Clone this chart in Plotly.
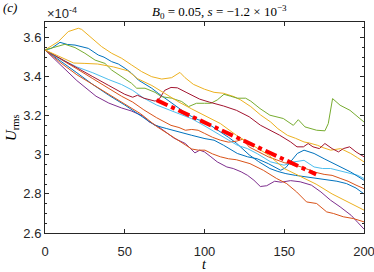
import plotly.graph_objects as go

# ---- data (U in units of 1e-4) ----
blueA_t = [0, 4, 9.4, 14, 18.8, 23, 27.2, 33.4, 37, 41.8, 46, 50.2, 54, 58.5, 63, 66.9, 71, 75.2, 79, 83.6, 88, 92, 96, 100.3, 105, 110, 115, 120, 124, 128, 134, 141, 146, 151, 157, 164, 170, 177, 183, 189, 195, 200]
blueA_u = [3.537, 3.545, 3.576, 3.565, 3.562, 3.555, 3.545, 3.511, 3.50, 3.477, 3.465, 3.443, 3.42, 3.383, 3.36, 3.341, 3.315, 3.29, 3.27, 3.238, 3.215, 3.196, 3.18, 3.17, 3.145, 3.12, 3.09, 3.06, 3.03, 3.0, 2.965, 2.93, 2.915, 2.904, 2.895, 2.887, 2.88, 2.87, 2.865, 2.853, 2.83, 2.80]

orange2_t = [0, 10, 20, 30, 40, 48, 55, 62, 70, 79, 84, 88, 92, 96, 100, 105, 110, 115, 120, 124, 128, 135, 140, 145, 150, 155, 160, 165, 170, 175, 180, 185, 190, 195, 200]
orange2_u = [3.537, 3.49, 3.44, 3.39, 3.34, 3.30, 3.27, 3.23, 3.19, 3.151, 3.14, 3.126, 3.13, 3.126, 3.11, 3.09, 3.075, 3.065, 3.07, 3.08, 3.04, 3.01, 2.99, 2.975, 2.96, 2.95, 2.94, 2.925, 2.91, 2.90, 2.895, 2.88, 2.865, 2.845, 2.827]

yellow1_t = [0, 8.4, 14.6, 20.9, 23, 29.3, 35.5, 41.8, 48.1, 54.3, 60.6, 66.9, 73.2, 79.4, 84.6, 87.8, 93, 100, 106, 112, 118.5, 122.7, 129, 135.2, 141.5, 146, 152, 157, 162.4, 166, 170.8, 175, 179.1, 185.4, 191.7, 196, 200]
yellow1_u = [3.537, 3.58, 3.631, 3.648, 3.642, 3.596, 3.554, 3.52, 3.494, 3.46, 3.426, 3.40, 3.388, 3.395, 3.422, 3.395, 3.361, 3.336, 3.32, 3.315, 3.298, 3.281, 3.247, 3.204, 3.168, 3.134, 3.10, 3.085, 3.066, 3.06, 3.049, 3.035, 3.024, 3.032, 3.007, 2.985, 2.964]

purple_t = [0, 10, 20, 32, 40, 48, 54, 61, 65, 71, 76, 81, 88, 94, 97, 100, 104, 108, 114, 118, 123, 127, 131, 135, 139, 144, 148, 154, 160, 167, 173, 179, 185, 192, 196, 200]
purple_u = [3.537, 3.46, 3.38, 3.30, 3.265, 3.24, 3.225, 3.20, 3.17, 3.145, 3.115, 3.085, 3.058, 3.01, 3.024, 3.015, 2.99, 2.964, 2.938, 2.93, 2.913, 2.895, 2.87, 2.838, 2.842, 2.865, 2.86, 2.868, 2.862, 2.845, 2.81, 2.768, 2.734, 2.69, 2.655, 2.62]

green_t = [0, 8.4, 12.5, 18.8, 25, 31.4, 37.6, 41.8, 48, 54.3, 57.5, 62.7, 69, 73, 79.4, 85.7, 90, 95, 100, 104, 108, 112.2, 116.4, 120.6, 125.8, 129, 134.8, 141, 149.4, 155.7, 158.8, 163, 170.3, 175.5, 177.6, 180.3, 185, 191.2, 200]
green_u = [3.537, 3.554, 3.566, 3.549, 3.52, 3.485, 3.468, 3.434, 3.40, 3.366, 3.341, 3.341, 3.32, 3.298, 3.29, 3.273, 3.247, 3.264, 3.264, 3.264, 3.281, 3.31, 3.30, 3.29, 3.29, 3.275, 3.237, 3.203, 3.186, 3.151, 3.18, 3.143, 3.126, 3.123, 3.16, 3.288, 3.254, 3.228, 3.168]

lightblue_t = [0, 10, 20, 30, 40, 48, 55, 62, 70, 78, 85, 92, 99.7, 106, 112.2, 120.6, 126.9, 133.1, 141.5, 149.9, 156.1, 162.4, 168.7, 174, 179.1, 187.5, 195.8, 200]
lightblue_u = [3.537, 3.49, 3.45, 3.42, 3.385, 3.36, 3.33, 3.29, 3.255, 3.23, 3.21, 3.185, 3.15, 3.12, 3.092, 3.049, 3.032, 3.006, 2.964, 2.947, 2.964, 2.972, 2.938, 2.93, 2.93, 2.913, 2.896, 2.879]

darkred_t = [0, 10, 20, 30, 40, 50, 55, 58, 62, 69, 72, 75, 79, 83, 89, 97, 103, 112, 120, 128, 135, 141, 147, 154, 158, 162, 165, 168, 172, 175.5, 180, 184, 187, 191, 195, 200]
darkred_u = [3.537, 3.49, 3.445, 3.40, 3.355, 3.31, 3.295, 3.305, 3.29, 3.275, 3.29, 3.33, 3.345, 3.343, 3.318, 3.285, 3.27, 3.25, 3.228, 3.195, 3.152, 3.126, 3.101, 3.066, 3.041, 3.041, 3.058, 3.041, 3.032, 3.058, 3.032, 3.015, 3.032, 3.041, 3.015, 2.99]

blueB_t = [0, 10, 20, 30, 40, 50, 60, 69, 76, 83.6, 92, 100.3, 106, 112, 120.6, 127, 133, 140, 147.8, 151, 154, 158.2, 162.4, 168.7, 175, 183.3, 191.7, 200]
blueB_u = [3.537, 3.48, 3.42, 3.36, 3.305, 3.255, 3.20, 3.151, 3.135, 3.117, 3.10, 3.083, 3.075, 3.049, 3.007, 2.99, 2.98, 2.955, 2.921, 2.935, 2.964, 3.007, 3.024, 3.007, 2.98, 2.946, 2.912, 2.87]

orange1_t = [0, 10, 20, 30, 40, 50, 60, 70, 81.5, 87.8, 92, 96.1, 100.3, 105, 110, 115, 120, 128.5, 136.9, 145.2, 151.5, 157.8, 164, 170.3, 176.6, 180.8, 187, 193.3, 200]
orange1_u = [3.537, 3.47, 3.41, 3.36, 3.31, 3.26, 3.21, 3.145, 3.083, 3.049, 3.03, 3.024, 3.024, 3.005, 2.99, 2.98, 2.975, 2.955, 2.921, 2.879, 2.853, 2.81, 2.759, 2.751, 2.708, 2.70, 2.683, 2.674, 2.657]

yellow2_t = [0, 10, 18, 25, 33, 43, 52, 58, 67, 75, 84, 92, 100, 110, 120, 130, 140, 150, 160, 170, 180, 190, 200]
yellow2_u = [3.537, 3.50, 3.47, 3.468, 3.465, 3.45, 3.43, 3.39, 3.355, 3.315, 3.27, 3.235, 3.20, 3.16, 3.10, 3.05, 3.0, 2.93, 2.89, 2.85, 2.80, 2.76, 2.717]

fit_t = [70, 170]
fit_u = [3.28, 2.90]

xticks = [0, 50, 100, 150, 200]
yticks = [2.6, 2.8, 3.0, 3.2, 3.4, 3.6]
ytick_labels = ["2.6", "2.8", "3", "3.2", "3.4", "3.6"]

series = [
    (blueA_t, blueA_u, "#0072BD"),
    (orange2_t, orange2_u, "#D95319"),
    (yellow1_t, yellow1_u, "#EDB120"),
    (purple_t, purple_u, "#7E2F8E"),
    (green_t, green_u, "#77AC30"),
    (lightblue_t, lightblue_u, "#4DBEEE"),
    (darkred_t, darkred_u, "#A2142F"),
    (blueB_t, blueB_u, "#0072BD"),
    (orange1_t, orange1_u, "#D95319"),
    (yellow2_t, yellow2_u, "#EDB120"),
]

fig = go.Figure()
for t, u, c in series:
    fig.add_trace(go.Scatter(x=t, y=u, mode="lines", line=dict(color=c, width=1),
                             showlegend=False, hoverinfo="skip"))
fig.add_trace(go.Scatter(x=fit_t, y=fit_u, mode="lines",
                         line=dict(color="#FF0000", width=4, dash="dashdot"),
                         showlegend=False, hoverinfo="skip"))

axcol = "#262626"
font_sans = "Liberation Sans, Arial, sans-serif"
font_serif = "Liberation Serif, DejaVu Serif, serif"

fig.update_layout(
    width=374, height=272,
    margin=dict(l=45, r=10, t=22, b=39, autoexpand=False),
    paper_bgcolor="white", plot_bgcolor="white",
    font=dict(family=font_sans, size=13, color=axcol),
    xaxis=dict(range=[0, 200], tickvals=xticks, ticks="inside", ticklen=4,
               showline=True, linecolor=axcol, linewidth=1, mirror="allticks",
               showgrid=False, zeroline=False, tickcolor=axcol, automargin=False,
               ticklabeloverflow="allow",
               tickfont=dict(size=13, color=axcol), ticklabelstandoff=6),
    yaxis=dict(range=[2.6, 3.68], tickvals=yticks, ticktext=ytick_labels,
               ticks="inside", ticklen=4, showline=True, linecolor=axcol,
               linewidth=1, mirror="allticks", showgrid=False, zeroline=False,
               tickcolor=axcol, automargin=False, ticklabeloverflow="allow",
               tickfont=dict(size=13, color=axcol),
               minor=dict(dtick=0.05, ticks="inside", ticklen=2, tickcolor=axcol, showgrid=False)),
)

def px2paper_x(px):
    return (px - 45) / 319.0

def py2paper_y(py):
    return (233 - py) / 211.0

ann = [
    dict(text="<i>(c)</i>", x=px2paper_x(1), y=py2paper_y(8), xanchor="left", yanchor="middle",
         font=dict(family=font_serif, size=13, color="black")),
    dict(text="×10<sup>-4</sup>", x=px2paper_x(45), y=py2paper_y(13), xanchor="left", yanchor="middle",
         font=dict(family=font_sans, size=13, color=axcol)),
    dict(text="<i>B</i><sub>0</sub> = 0.05, <i>s</i> = −1.2 × 10<sup>−3</sup>",
         x=px2paper_x(219), y=py2paper_y(12), xanchor="center", yanchor="middle",
         font=dict(family=font_serif, size=13, color="black")),
    dict(text="<i>U</i><sub>rms</sub>", x=px2paper_x(12), y=py2paper_y(128), xanchor="center",
         yanchor="middle", textangle=-90, font=dict(family=font_serif, size=15, color="black")),
    dict(text="<i>t</i>", x=px2paper_x(204), y=py2paper_y(264), xanchor="center", yanchor="middle",
         font=dict(family=font_serif, size=14, color="black")),
]
for a in ann:
    a.update(xref="paper", yref="paper", showarrow=False)
fig.update_layout(annotations=ann)

fig.write_html("out.html", config={"displayModeBar": False},
               post_script="document.body.style.margin='0';document.body.style.overflow='hidden';")
